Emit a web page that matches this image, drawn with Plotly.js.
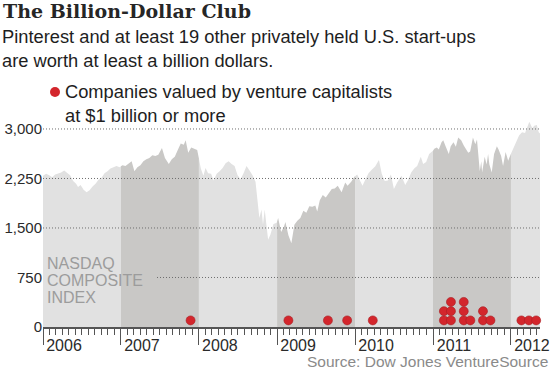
<!DOCTYPE html>
<html><head><meta charset="utf-8">
<script src="https://cdn.plot.ly/plotly-3.0.1.min.js"></script>
<style>html,body{margin:0;padding:0;background:#fff;}#chart{width:550px;height:369px;}</style>
</head><body><div id="chart"></div>
<script>
// NASDAQ Composite index
const nasdaqDates = [
'2006-01-01','2006-01-16','2006-01-30','2006-02-13','2006-02-27','2006-03-13','2006-03-27','2006-04-10','2006-04-24','2006-05-08','2006-05-22','2006-06-05','2006-06-14','2006-06-26','2006-07-10','2006-07-24','2006-08-07','2006-08-21','2006-09-04','2006-09-18','2006-10-02','2006-10-16','2006-10-30','2006-11-13','2006-11-27','2006-12-11','2006-12-26',
'2007-01-08','2007-01-22','2007-02-05','2007-02-20','2007-03-05','2007-03-19','2007-04-02','2007-04-16','2007-04-30','2007-05-14','2007-05-28','2007-06-11','2007-06-25','2007-07-12','2007-07-26','2007-08-13','2007-08-27','2007-09-10','2007-09-24','2007-10-08','2007-10-22','2007-10-31','2007-11-12','2007-11-26','2007-12-10','2007-12-24',
'2008-01-03','2008-01-10','2008-01-22','2008-02-01','2008-02-13','2008-02-27','2008-03-10','2008-03-24','2008-04-07','2008-04-21','2008-05-05','2008-05-19','2008-06-02','2008-06-16','2008-06-30','2008-07-14','2008-07-28','2008-08-11','2008-08-25','2008-09-08','2008-09-22','2008-09-29','2008-10-10','2008-10-20','2008-10-27','2008-11-04','2008-11-20','2008-12-01','2008-12-15','2008-12-30',
'2009-01-06','2009-01-20','2009-02-02','2009-02-09','2009-02-23','2009-03-09','2009-03-23','2009-04-06','2009-04-20','2009-05-04','2009-05-18','2009-06-01','2009-06-15','2009-06-29','2009-07-08','2009-07-20','2009-08-03','2009-08-17','2009-08-31','2009-09-14','2009-09-28','2009-10-12','2009-10-30','2009-11-16','2009-11-27','2009-12-14','2009-12-30',
'2010-01-11','2010-01-25','2010-02-05','2010-02-19','2010-03-05','2010-03-19','2010-04-05','2010-04-23','2010-05-06','2010-05-20','2010-06-04','2010-06-18','2010-07-02','2010-07-16','2010-08-06','2010-08-24','2010-09-07','2010-09-21','2010-10-05','2010-10-19','2010-11-05','2010-11-16','2010-11-30','2010-12-14','2010-12-30',
'2011-01-07','2011-01-19','2011-01-28','2011-02-10','2011-02-18','2011-03-01','2011-03-16','2011-03-25','2011-04-07','2011-04-18','2011-04-29','2011-05-13','2011-05-25','2011-06-15','2011-06-24','2011-07-07','2011-07-18','2011-07-26','2011-08-08','2011-08-15','2011-08-19','2011-08-31','2011-09-09','2011-09-16','2011-09-22','2011-10-03','2011-10-14','2011-10-27','2011-11-04','2011-11-16','2011-11-25','2011-12-07','2011-12-19','2011-12-30',
'2012-01-10','2012-01-25','2012-02-08','2012-02-22','2012-03-07','2012-03-20','2012-03-27','2012-04-10','2012-04-19','2012-05-01','2012-05-10','2012-05-16'
];
const nasdaqValues = [
2290,2320,2300,2270,2310,2320,2340,2370,2330,2300,2210,2170,2120,2150,2080,2040,2070,2130,2170,2230,2260,2330,2360,2400,2420,2440,2420,
2450,2440,2480,2510,2360,2420,2450,2510,2540,2560,2600,2590,2610,2710,2560,2470,2540,2580,2680,2780,2760,2830,2640,2720,2700,2680,
2520,2400,2290,2410,2330,2320,2220,2320,2360,2410,2480,2510,2470,2440,2300,2240,2330,2440,2370,2300,2200,1980,1650,1780,1550,1780,1320,1400,1560,1580,
1650,1440,1520,1590,1390,1270,1550,1610,1650,1760,1730,1830,1820,1840,1750,1920,2000,1960,2020,2090,2100,2140,2040,2190,2140,2200,2280,
2310,2210,2140,2240,2330,2380,2430,2530,2320,2210,2220,2310,2090,2180,2290,2150,2230,2340,2400,2440,2580,2470,2500,2620,2660,
2700,2720,2690,2800,2830,2740,2620,2740,2800,2730,2870,2830,2750,2640,2660,2870,2770,2840,2360,2510,2340,2580,2460,2620,2460,2340,2620,2740,2690,2590,2440,2650,2520,2610,
2700,2800,2900,2950,2940,3060,3110,3010,3050,3060,2950,2930
];
// Companies valued at $1 billion or more (one entry per company)
const dotDates = [
'2007-11-23',
'2009-02-23','2009-08-27','2009-11-25',
'2010-03-25',
'2011-02-21','2011-02-21',
'2011-03-26','2011-03-26','2011-03-26',
'2011-05-25','2011-05-25','2011-05-25',
'2011-06-25',
'2011-08-23','2011-08-23',
'2011-09-27',
'2012-02-19','2012-03-25','2012-04-28'
];
const yearStarts = ['2006-01-01','2007-01-01','2008-01-01','2009-01-01','2010-01-01','2011-01-01','2012-01-01','2013-01-01'];
const yTicks = [0,750,1500,2250,3000];
const gridLevels = [750,1500,2250,3000];

const bandColors = ['#e1e1e1','#c9c8c6'];
const dotBase = 100, dotStep = 140;

const tms = nasdaqDates.map(d => Date.parse(d));
function valAt(ms){
  for (let i=0;i<tms.length-1;i++){
    if (ms>=tms[i] && ms<=tms[i+1]){
      const f = (ms-tms[i])/(tms[i+1]-tms[i]);
      return nasdaqValues[i] + f*(nasdaqValues[i+1]-nasdaqValues[i]);
    }
  }
  return ms<tms[0]?nasdaqValues[0]:nasdaqValues[nasdaqValues.length-1];
}
const iso = ms => new Date(ms).toISOString().slice(0,19).replace('T',' ');
const traces = [];
for (let i=0;i<yearStarts.length-1;i++){
  const s = Math.max(Date.parse(yearStarts[i]), tms[0]);
  const e = Math.min(Date.parse(yearStarts[i+1]), tms[tms.length-1]);
  if (e<=s) continue;
  const xs=[iso(s)], ys=[valAt(s)];
  for (let j=0;j<tms.length;j++){ if (tms[j]>s && tms[j]<e){ xs.push(nasdaqDates[j]); ys.push(nasdaqValues[j]); } }
  xs.push(iso(e)); ys.push(valAt(e));
  traces.push({type:'scatter', mode:'lines', x:xs, y:ys, fill:'tozeroy',
    fillcolor:bandColors[i%2], line:{width:0,color:bandColors[i%2]}, hoverinfo:'skip', showlegend:false});
}
const cnt = {};
const dotY = dotDates.map(d => { const k = cnt[d]||0; cnt[d]=k+1; return dotBase + k*dotStep; });
traces.push({type:'scatter', mode:'markers', x:dotDates, y:dotY, showlegend:false,
  marker:{color:'#d3262c', size:9, line:{color:'#a81d22', width:0.6}}, cliponaxis:false});

const L=43, R=10, T=119, B=42, W=550, H=369;
const pw = W-L-R, ph = H-T-B;
const px = x => (x-L)/pw;
const py = y => (H-B-y)/ph;

const shapes = gridLevels.map(v => ({type:'line', xref:'paper', yref:'y', x0: v===750?px(157):0, x1:1, y0:v, y1:v,
  line:{color:'#6e6e6e', width:1, dash:'1px,2px'}, layer:'above'}));
shapes.push({type:'circle', xref:'paper', yref:'paper', xsizemode:'pixel', ysizemode:'pixel',
  xanchor:px(55), yanchor:py(92), x0:-5, x1:5, y0:-5, y1:5, fillcolor:'#d3262c', line:{width:0}});

const annotations = [
  {text:'Pinterest and at least 19 other privately held U.S. start-ups<br>are worth at least a billion dollars.',
   xref:'paper', yref:'paper', x:px(0), y:py(48.5), xanchor:'left', yanchor:'middle', align:'left', showarrow:false,
   font:{size:18.3, color:'#1e1e1e'}},
  {text:'Companies valued by venture capitalists<br>at $1 billion or more',
   xref:'paper', yref:'paper', x:px(63), y:py(103.5), xanchor:'left', yanchor:'middle', align:'left', showarrow:false,
   font:{size:18.3, color:'#1e1e1e'}},
  {text:'NASDAQ', xref:'paper', yref:'paper', x:px(45), y:py(263.5), xanchor:'left', yanchor:'middle', showarrow:false, font:{size:16,color:'#9c9c9c'}},
  {text:'COMPOSITE', xref:'paper', yref:'paper', x:px(45), y:py(280.5), xanchor:'left', yanchor:'middle', showarrow:false, font:{size:16,color:'#9c9c9c'}},
  {text:'INDEX', xref:'paper', yref:'paper', x:px(45), y:py(297.5), xanchor:'left', yanchor:'middle', showarrow:false, font:{size:16,color:'#9c9c9c'}},
  {text:'Source: Dow Jones VentureSource', xref:'paper', yref:'paper', x:px(550), y:py(361.5), xanchor:'right', yanchor:'middle', showarrow:false,
   font:{size:15.5,color:'#8a8a8a'}}
];

const layout = {
  width:W, height:H, margin:{l:L,r:R,t:T,b:B,pad:0},
  paper_bgcolor:'#ffffff', plot_bgcolor:'rgba(0,0,0,0)',
  font:{family:'Liberation Sans, Arial, sans-serif', color:'#2a2a2a'},
  title:{text:'The Billion-Dollar Club', xref:'container', yref:'container', x:3/W, xanchor:'left', y:1-11/H, yanchor:'middle',
    font:{family:'DejaVu Serif, serif', size:19, weight:'bold', color:'#262626'}},
  xaxis:{type:'date', range:['2006-01-01','2012-05-16'], showgrid:false, zeroline:false, showline:true,
    linecolor:'#555', linewidth:1.5, ticks:'outside', ticklen:16, tickwidth:1, tickcolor:'#555',
    tick0:'2006-01-01', dtick:'M12', tickformat:'%Y', ticklabelshift:21, ticklabelstandoff:-13,
    tickfont:{size:16, color:'#2a2a2a'},
    minor:{tick0:'2006-01-01', dtick:'M1', ticks:'outside', ticklen:6, tickwidth:1, tickcolor:'#555', showgrid:false},
    fixedrange:true},
  yaxis:{range:[0,3151], tickvals:yTicks, tickformat:',d', showgrid:false, zeroline:false, showline:false, ticks:'',
    tickfont:{size:15, color:'#2a2a2a'}, fixedrange:true},
  showlegend:false, shapes:shapes, annotations:annotations, hovermode:false
};
Plotly.newPlot('chart', traces, layout, {staticPlot:true, displayModeBar:false});
</script></body></html>
